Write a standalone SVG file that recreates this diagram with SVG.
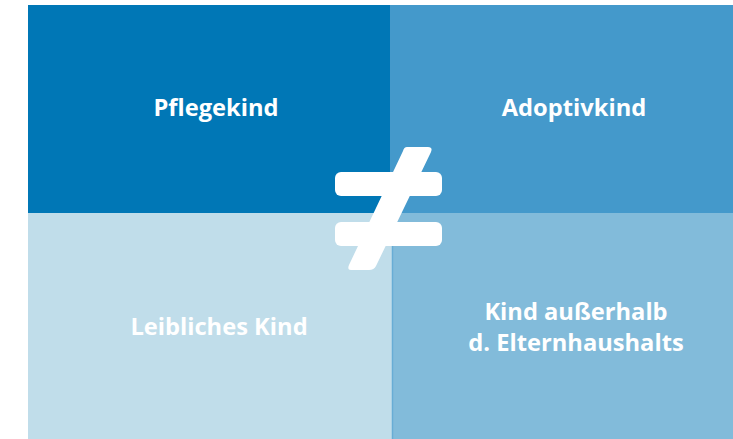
<svg xmlns="http://www.w3.org/2000/svg" width="733" height="439" viewBox="0 0 733 439">
<style>
.lbl{font-family:"Open Sans","Liberation Sans",sans-serif;font-weight:bold;font-size:23.7px;fill:#ffffff;text-anchor:middle}
</style>
<rect width="733" height="439" fill="#ffffff"/>
<g id="pflegekind">
<rect x="28" y="5" width="362" height="208" fill="#0077B6"/>
<text class="lbl" x="216" y="116">Pflegekind</text>
</g>
<g id="adoptivkind">
<rect x="390" y="5" width="343" height="208" fill="#4499CB"/>
<text class="lbl" x="574" y="116">Adoptivkind</text>
</g>
<g id="leibliches-kind">
<rect x="28" y="213" width="364" height="226" fill="#C0DDEA"/>
<text class="lbl" x="219" y="335">Leibliches Kind</text>
</g>
<g id="kind-ausserhalb">
<rect x="392" y="213" width="341" height="226" fill="#82BBDA"/>
<line x1="392.5" y1="213" x2="392.5" y2="439" stroke="#68ADD5" stroke-width="1.5"/>
<text class="lbl" x="576" y="320">Kind außerhalb</text>
<text class="lbl" x="576" y="351">d. Elternhaushalts</text>
</g>
<g id="not-equal" fill="#ffffff">
<rect x="335" y="172" width="107" height="24" rx="6"/>
<rect x="335" y="222" width="107" height="24" rx="6"/>
<path d="M407,147 L428,147 Q433,147 431,152 L376,266 Q374,270 369,270 L351,270 Q347,270 349,265 L403,151 Q404,147 407,147 Z"/>
</g>
</svg>
